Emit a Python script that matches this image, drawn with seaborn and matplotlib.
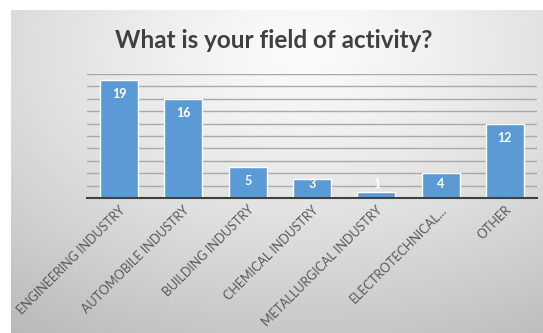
import numpy as np
import matplotlib
matplotlib.use("Agg")
import matplotlib.pyplot as plt
import seaborn as sns

categories = ["ENGINEERING INDUSTRY", "AUTOMOBILE INDUSTRY", "BUILDING INDUSTRY",
              "CHEMICAL INDUSTRY", "METALLURGICAL INDUSTRY", "ELECTROTECHNICAL...", "OTHER"]
values = [19, 16, 5, 3, 1, 4, 12]
title = "What is your field of activity?"

sns.set_theme(style="white")
plt.rcParams['font.family'] = ['Lato', 'DejaVu Sans']

W, H = 543, 333
fig = plt.figure(figsize=(W / 100, H / 100), dpi=100)
fig.patch.set_facecolor("white")

# background gradient frame
bg = fig.add_axes([11 / W, 0, 1 - 11 / W, 1 - 10 / H])
bg.set_axis_off()
ny, nx = 200, 330
yy, xx = np.mgrid[0:1:ny * 1j, 0:1:nx * 1j]
d = np.sqrt(((xx - 0.55) / 1.0) ** 2 + ((yy - 0.12) / 1.1) ** 2)
shade = 0.985 - 0.27 * np.clip(d, 0, 1) ** 1.3
bg.imshow(np.dstack([shade, shade, shade]), aspect="auto", extent=[0, 1, 1, 0],
          interpolation="bicubic")
bg.set_xlim(0, 1)
bg.set_ylim(1, 0)

ax = fig.add_axes([87 / W, 1 - 198 / H, (537 - 87) / W, (198 - 74) / H])
ax.patch.set_alpha(0)
sns.barplot(x=categories, y=values, color="#5B9BD5", saturation=1, width=0.59, ax=ax)
ax.set_ylim(0, 20)
ax.set_xlim(-0.5, len(categories) - 0.5)
ax.set_yticks(np.arange(0, 21, 2))
ax.set_yticklabels([])
ax.tick_params(axis="y", length=0)
ax.grid(axis="y", color="#a9a9a9", linewidth=1.0)
ax.set_axisbelow(True)
for s in ["top", "right", "left"]:
    ax.spines[s].set_visible(False)
ax.spines["bottom"].set_color("#404040")
ax.spines["bottom"].set_linewidth(1.5)
ax.spines["bottom"].set_zorder(5)
ax.set_xlabel("")
ax.set_ylabel("")
ax.tick_params(axis="x", length=0, pad=4)
ax.set_xticks(range(len(categories)))
ax.set_xticklabels(categories, rotation=45, ha="right", rotation_mode="anchor",
                   fontsize=9, color="#595959")

for i, v in enumerate(values):
    ax.text(i, max(v - 2.3, 2.2), str(v), ha="center", va="center", color="white",
            fontsize=9, fontweight="bold", zorder=6)

fig.text(0.505, 1 - 40 / H, title, ha="center", va="center", fontsize=17.5,
         fontweight="bold", color="#404040")

fig.savefig("out.png", dpi=100)
